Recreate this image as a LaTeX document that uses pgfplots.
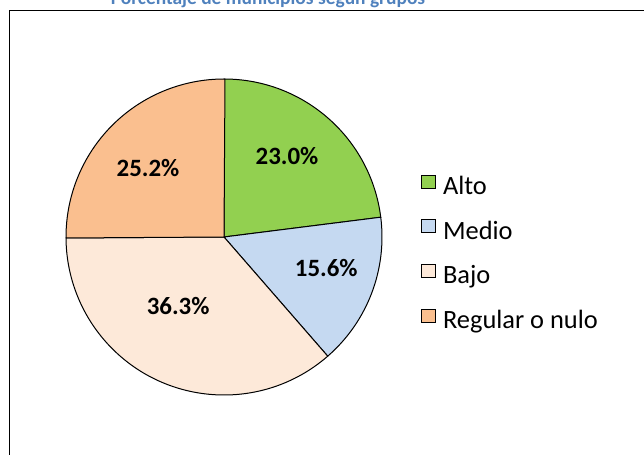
\documentclass[border=0pt]{standalone}
\usepackage{pgfplots}
\pgfplotsset{compat=1.18}
\usepackage{pgfplotstable}
\usepackage{fontspec}
\setmainfont{Carlito}
\definecolor{altoc}{RGB}{146,208,80}
\definecolor{medioc}{RGB}{197,217,241}
\definecolor{bajoc}{RGB}{253,233,217}
\definecolor{regc}{RGB}{250,191,143}
\definecolor{titlec}{RGB}{79,129,189}
\pgfplotstableread{
grupo valor
Alto 23.0
Medio 15.6
Bajo 36.3
Regular 25.2
}\piedata
\begin{document}
\begin{tikzpicture}
\useasboundingbox (0bp,0bp) rectangle (644bp,455bp);
\clip (0bp,0bp) rectangle (644bp,455bp);
\draw[line width=1.2bp, black] (9.5bp,444.5bp) rectangle (700bp,-50bp);
\node[anchor=base, inner sep=0pt, font=\fontsize{19.5}{22}\selectfont\bfseries, text=titlec] at (268bp,450.5bp) {Porcentaje de municipios según grupos};
\pgfplotstablegetelem{0}{valor}\of\piedata \let\vA\pgfplotsretval
\pgfplotstablegetelem{1}{valor}\of\piedata \let\vB\pgfplotsretval
\pgfplotstablegetelem{2}{valor}\of\piedata \let\vC\pgfplotsretval
\pgfplotstablegetelem{3}{valor}\of\piedata \let\vD\pgfplotsretval
\pgfmathsetmacro\aA{90}
\pgfmathsetmacro\aB{\aA-3.6*\vA}
\pgfmathsetmacro\aC{\aB-3.6*\vB}
\pgfmathsetmacro\aD{\aC-3.6*\vC}
\pgfmathsetmacro\aE{\aD-3.6*\vD}
\begin{axis}[at={(224bp,218bp)}, anchor=center, x=158bp, y=158bp,
  xmin=-1, xmax=1, ymin=-1, ymax=1, hide axis, clip=false,
  legend image code/.code={\draw[#1] (0bp,-2bp) rectangle (13.5bp,11bp); \path (19bp,0bp);},
  legend cell align=left,
  legend style={draw=none, fill=none, at={(1.1235,0.70)}, anchor=north west,
    font=\fontsize{26.5}{30}\selectfont, row sep=21bp, inner sep=0pt,
    nodes={inner sep=2bp}}]
\filldraw[fill=altoc, draw=black, line width=1bp] (axis cs:0,0) -- (axis cs:{cos(\aA)},{sin(\aA)}) arc[start angle=\aA, end angle=\aB, radius=1] -- cycle;
\filldraw[fill=medioc, draw=black, line width=1bp] (axis cs:0,0) -- (axis cs:{cos(\aB)},{sin(\aB)}) arc[start angle=\aB, end angle=\aC, radius=1] -- cycle;
\filldraw[fill=bajoc, draw=black, line width=1bp] (axis cs:0,0) -- (axis cs:{cos(\aC)},{sin(\aC)}) arc[start angle=\aC, end angle=\aD, radius=1] -- cycle;
\filldraw[fill=regc, draw=black, line width=1bp] (axis cs:0,0) -- (axis cs:{cos(\aD)},{sin(\aD)}) arc[start angle=\aD, end angle=\aE, radius=1] -- cycle;
\node[font=\fontsize{25}{30}\selectfont\bfseries] at (axis cs:0.399,0.514) {23.0\%};
\node[font=\fontsize{25}{30}\selectfont\bfseries] at (axis cs:0.647,-0.194) {15.6\%};
\node[font=\fontsize{25}{30}\selectfont\bfseries] at (axis cs:-0.29,-0.435) {36.3\%};
\node[font=\fontsize{25}{30}\selectfont\bfseries] at (axis cs:-0.481,0.437) {25.2\%};
\addlegendimage{fill=altoc, draw=black, line width=0.8bp}
\addlegendentry{Alto}
\addlegendimage{fill=medioc, draw=black, line width=0.8bp}
\addlegendentry{Medio}
\addlegendimage{fill=bajoc, draw=black, line width=0.8bp}
\addlegendentry{Bajo}
\addlegendimage{fill=regc, draw=black, line width=0.8bp}
\addlegendentry{Regular o nulo}
\end{axis}
\end{tikzpicture}
\end{document}
